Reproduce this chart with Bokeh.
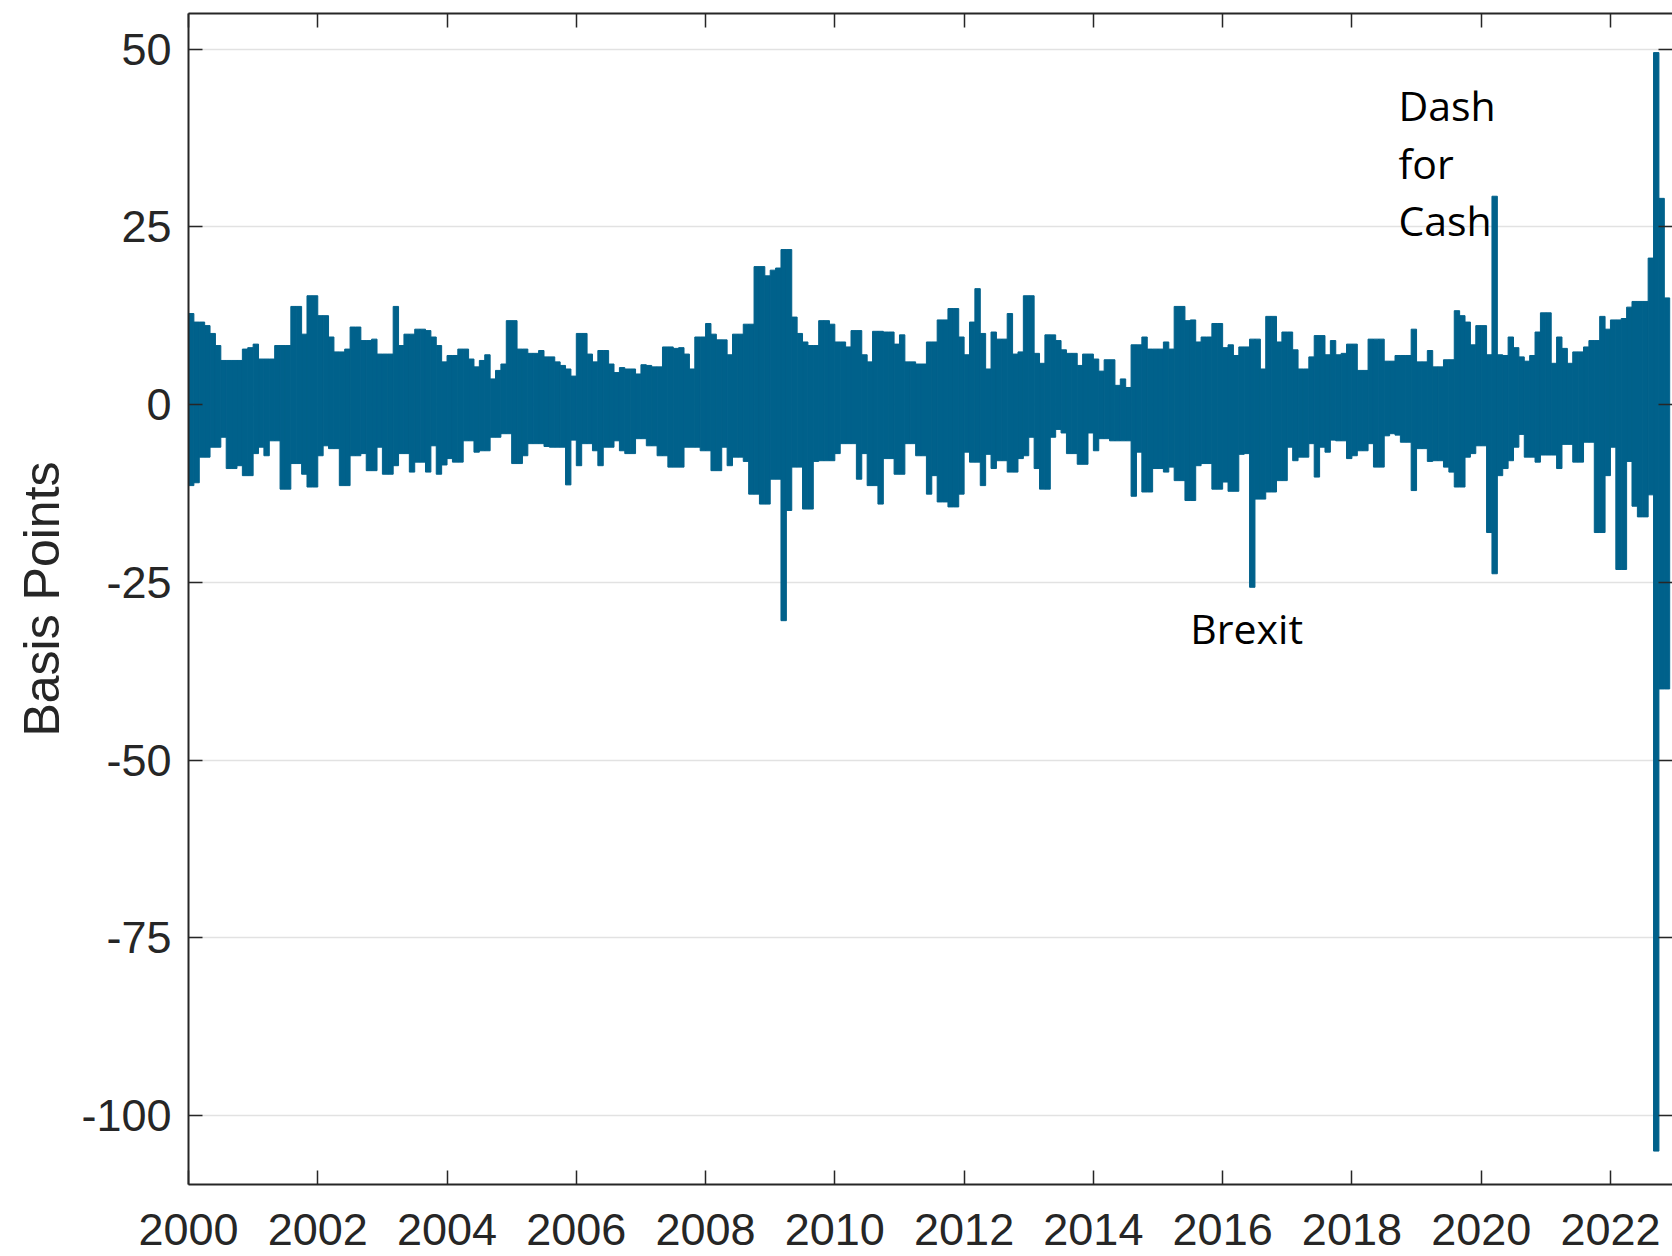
from bokeh.plotting import figure
from bokeh.models import (FixedTicker, LinearAxis, Label, ColumnDataSource, Range1d,
                          CustomJSTickFormatter)
from bokeh.embed import file_html
from bokeh.resources import INLINE

# ---- data: monthly high / low of daily changes (basis points), Jan 2000 onwards ----
start_year = 2000
x_ticks = list(range(2000, 2023, 2))
y_ticks = [-100, -75, -50, -25, 0, 25, 50]

upper = [
    12.8, 11.6, 11.6, 11.1, 10.0, 8.3, 6.2, 6.2, 6.2, 6.2, 7.8, 8.0,        # 2000
    8.5, 6.4, 6.4, 6.4, 8.3, 8.3, 8.3, 13.8, 13.8, 9.9, 15.3, 15.3,         # 2001
    12.5, 12.5, 9.5, 7.4, 7.4, 7.8, 10.9, 10.9, 9.0, 9.0, 9.2, 7.1,         # 2002
    7.1, 7.1, 13.8, 8.3, 9.9, 9.9, 10.6, 10.6, 10.4, 9.5, 8.3, 6.0,         # 2003
    6.9, 6.9, 7.8, 7.8, 6.4, 5.3, 6.2, 7.0, 3.6, 4.8, 5.7, 11.8,            # 2004
    11.8, 7.8, 7.8, 7.2, 7.2, 7.6, 6.7, 6.7, 6.0, 5.5, 5.0, 4.0,            # 2005
    10.0, 10.0, 7.1, 6.0, 7.6, 7.6, 5.7, 4.5, 5.2, 5.0, 5.0, 4.3,           # 2006
    5.6, 5.5, 5.3, 5.3, 8.1, 8.1, 7.9, 8.0, 7.1, 5.0, 9.5, 9.5,             # 2007
    11.4, 9.9, 9.1, 9.1, 7.0, 9.9, 9.9, 11.3, 11.3, 19.4, 19.4, 18.1,       # 2008
    18.9, 19.2, 21.8, 21.8, 12.3, 10.0, 8.8, 8.3, 8.3, 11.8, 11.8, 11.3,    # 2009
    8.8, 8.8, 8.1, 10.4, 10.4, 7.0, 6.0, 10.3, 10.3, 10.2, 10.2, 8.5,       # 2010
    9.8, 6.0, 6.0, 5.7, 5.7, 8.8, 8.8, 11.9, 11.9, 13.5, 13.5, 9.5,         # 2011
    7.0, 11.6, 16.3, 10.0, 5.0, 10.2, 9.2, 9.2, 12.8, 7.1, 7.4, 15.3,       # 2012
    15.3, 7.2, 5.8, 9.8, 9.8, 9.0, 7.7, 7.2, 7.2, 5.5, 7.1, 7.1,            # 2013
    6.4, 4.7, 6.3, 6.3, 2.7, 3.6, 2.4, 8.4, 8.4, 9.5, 7.8, 7.8,             # 2014
    7.8, 8.8, 7.8, 13.8, 13.8, 11.8, 11.9, 8.8, 9.5, 9.5, 11.4, 11.4,       # 2015
    8.0, 8.4, 6.9, 8.1, 8.1, 9.2, 9.2, 5.0, 12.4, 12.4, 8.8, 10.2,          # 2016
    10.2, 7.7, 5.0, 5.0, 6.7, 9.7, 9.7, 7.0, 9.0, 7.0, 7.2, 8.5,            # 2017
    8.5, 4.8, 4.8, 9.2, 9.2, 9.2, 6.1, 6.1, 6.9, 6.9, 6.9, 10.6,            # 2018
    6.0, 6.0, 7.6, 5.3, 5.3, 6.3, 6.3, 13.2, 12.5, 11.6, 8.4, 11.1,         # 2019
    11.1, 7.0, 29.3, 7.0, 6.9, 9.5, 8.0, 6.7, 6.1, 6.9, 10.2, 12.9,         # 2020
    12.9, 5.8, 9.5, 7.9, 5.8, 7.4, 7.4, 8.1, 9.0, 9.0, 12.4, 10.6,          # 2021
    11.9, 11.9, 12.1, 13.7, 14.5, 14.5, 14.5, 20.6, 49.5, 29.0, 15.0,       # 2022
]

lower = [
    -11.4, -11.0, -7.4, -7.4, -6.0, -6.0, -4.6, -9.0, -9.0, -8.6, -10.0, -10.0,      # 2000
    -6.9, -6.0, -7.2, -5.1, -5.1, -11.9, -11.9, -8.3, -8.3, -9.8, -11.6, -11.6,      # 2001
    -7.2, -5.8, -6.2, -6.2, -11.4, -11.4, -7.2, -7.2, -6.9, -9.3, -9.3, -6.0,        # 2002
    -9.8, -9.8, -8.6, -6.9, -6.9, -9.5, -8.1, -8.1, -9.5, -5.8, -9.8, -8.5,          # 2003
    -7.6, -8.1, -8.1, -5.1, -5.1, -6.7, -6.5, -6.5, -4.6, -4.6, -4.1, -4.1,          # 2004
    -8.3, -8.3, -7.2, -5.5, -5.5, -5.5, -5.9, -6.0, -6.0, -6.0, -11.3, -5.0,         # 2005
    -8.6, -5.5, -5.5, -6.5, -8.6, -6.0, -6.0, -5.1, -6.5, -6.9, -6.9, -4.8,          # 2006
    -4.8, -5.8, -5.8, -7.2, -7.2, -8.8, -8.8, -8.8, -6.0, -6.0, -6.0, -6.5,          # 2007
    -6.5, -9.3, -9.3, -6.0, -8.6, -7.4, -7.4, -8.0, -12.6, -12.6, -14.0, -14.0,      # 2008
    -10.5, -10.5, -30.4, -14.9, -8.8, -8.8, -14.7, -14.7, -8.0, -7.9, -7.9, -7.9,    # 2009
    -6.9, -5.5, -5.5, -5.5, -10.5, -6.9, -11.4, -11.4, -14.0, -7.6, -7.6, -9.8,      # 2010
    -9.8, -5.5, -5.5, -7.2, -7.2, -12.6, -10.0, -13.7, -13.7, -14.4, -14.4, -12.6,   # 2011
    -6.7, -8.1, -8.1, -11.4, -7.0, -9.0, -7.9, -7.9, -9.5, -9.5, -7.6, -7.2,         # 2012
    -4.6, -9.0, -11.9, -11.9, -4.6, -3.5, -4.0, -6.9, -6.9, -8.4, -8.4, -4.0,        # 2013
    -6.5, -4.8, -4.8, -5.1, -5.1, -5.1, -5.1, -12.9, -6.7, -12.3, -12.3, -9.0,       # 2014
    -9.0, -9.5, -8.8, -10.7, -10.7, -13.5, -13.5, -8.6, -8.3, -8.3, -11.9, -11.9,    # 2015
    -10.9, -12.2, -12.2, -7.0, -6.9, -25.7, -13.3, -13.3, -12.3, -12.3, -10.7, -10.7,  # 2016
    -6.0, -7.9, -7.4, -7.4, -5.5, -10.2, -6.0, -6.7, -5.0, -5.1, -5.1, -7.6,         # 2017
    -7.2, -6.5, -6.5, -5.5, -8.8, -8.8, -4.4, -4.1, -4.3, -5.3, -5.3, -12.1,         # 2018
    -6.2, -6.2, -8.0, -7.9, -7.9, -8.8, -9.5, -11.6, -11.6, -7.4, -6.9, -5.8,        # 2019
    -5.8, -18.0, -23.8, -10.0, -9.0, -7.9, -6.0, -4.2, -7.4, -7.4, -8.1, -7.1,       # 2020
    -7.1, -7.1, -9.0, -5.6, -5.6, -8.1, -8.1, -5.3, -5.3, -18.0, -18.0, -10.0,       # 2021
    -6.0, -23.2, -23.2, -8.0, -14.3, -15.8, -15.8, -12.7, -105.0, -40.0, -40.0,      # 2022
]

annotations = [("Dash", 2018.72, 42.1), ("for", 2018.72, 34.0), ("Cash", 2018.72, 25.9),
               ("Brexit", 2015.50, -31.4)]

# ---- figure ----
n = min(len(upper), len(lower))
month_centers = [start_year + (i + 0.5) / 12.0 for i in range(n)]
src = ColumnDataSource(dict(x=month_centers, top=upper[:n], bottom=lower[:n]))

AX = "#262626"
BLUE = "#00618B"

p = figure(width=1672, height=1256,
           x_range=Range1d(2000, 2022.96), y_range=Range1d(-109.7, 55.0),
           output_backend="svg", toolbar_location=None,
           min_border_left=188, min_border_right=0, min_border_top=13, min_border_bottom=72,
           background_fill_color="white", border_fill_color="white")
p.outline_line_color = None

p.vbar(x="x", top="top", bottom="bottom", width=1.0 / 12.0, source=src,
       fill_color=BLUE, line_color=BLUE, line_width=1)

p.xgrid.visible = False
p.ygrid.ticker = FixedTicker(ticks=y_ticks)
p.ygrid.grid_line_color = "#e2e2e2"
p.ygrid.grid_line_width = 1.5
p.ygrid.level = "underlay"

def style_axis(ax, labels=True):
    ax.axis_line_color = AX
    ax.axis_line_width = 2
    ax.major_tick_line_color = AX
    ax.major_tick_line_width = 1.5
    ax.major_tick_in = 14
    ax.major_tick_out = 0
    ax.minor_tick_line_color = None
    if labels:
        ax.major_label_text_font = "Liberation Sans"
        ax.major_label_text_font_size = "45px"
        ax.major_label_text_color = AX
    else:
        ax.major_label_text_font_size = "0px"
        ax.major_label_text_alpha = 0
        ax.major_label_standoff = 0

xa = p.xaxis[0]
xa.ticker = FixedTicker(ticks=x_ticks)
style_axis(xa)
xa.formatter = CustomJSTickFormatter(code="return tick.toFixed(0);")
xa.major_label_standoff = 29

ya = p.yaxis[0]
ya.ticker = FixedTicker(ticks=y_ticks)
style_axis(ya)
ya.formatter = CustomJSTickFormatter(code="return tick.toString();")
ya.major_label_standoff = 17
ya.axis_label = "Basis Points"
ya.axis_label_text_font = "Liberation Sans"
ya.axis_label_text_font_size = "50px"
ya.axis_label_text_font_style = "normal"
ya.axis_label_text_color = AX
ya.axis_label_standoff = 8

top_axis = LinearAxis(ticker=FixedTicker(ticks=x_ticks))
style_axis(top_axis, labels=False)
p.add_layout(top_axis, "above")

right_axis = LinearAxis(ticker=FixedTicker(ticks=y_ticks))
style_axis(right_axis, labels=False)
right_axis.axis_line_color = None
p.add_layout(right_axis, "right")

for txt, xv, yv in annotations:
    p.add_layout(Label(x=xv, y=yv, text=txt, text_font="Open Sans", text_font_size="41px",
                       text_color="black", text_baseline="middle", text_align="left"))

open("out.html", "w").write(file_html(p, INLINE))
